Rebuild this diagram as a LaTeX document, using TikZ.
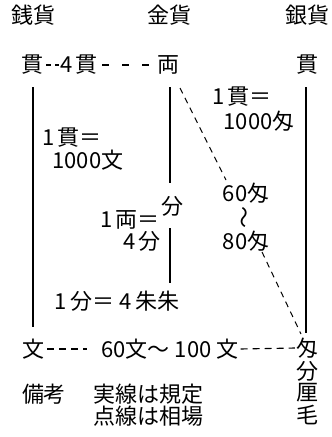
\documentclass[tikz,border=0pt]{standalone}
\usepackage{fontspec}
\setmainfont{Noto Sans CJK JP}
\begin{document}
\begin{tikzpicture}[x=1pt,y=-1pt,
  lbl/.style={inner sep=0pt, font=\fontsize{22}{26}\selectfont},
  solidline/.style={line width=1.1pt},
  dashline/.style={line width=1.1pt, dash pattern=on 7pt off 5pt},
  shortdash/.style={line width=1.1pt, dash pattern=on 5pt off 4pt},
  sparsedash/.style={line width=1.1pt, dash pattern=on 7pt off 13pt},
  diagline/.style={line width=1pt, dash pattern=on 6pt off 5pt}]
\useasboundingbox (0,0) rectangle (332,437);
% headers
\node[lbl] (h1) at (34,15) {銭貨};
\node[lbl] (h2) at (169,15) {金貨};
\node[lbl] (h3) at (307,15) {銀貨};
% top row
\node[lbl] (zq) at (32,65) {貫};
\node[lbl] (z4) at (79,65) {4\,貫};
\node[lbl] (gr) at (168,65) {両};
\node[lbl] (sq) at (307,65) {貫};
% bottom row
\node[lbl] (zw) at (34,349) {文};
\node[lbl] (zr) at (170,349) {60文〜 100 文};
\node[lbl] (sm) at (307,348) {匁};
\node[lbl] (sf) at (307,371) {分};
\node[lbl] (sr) at (307,393) {厘};
\node[lbl] (smo) at (307,415) {毛};
% labels
\node[lbl] (l1) at (72,138) {1\,貫＝};
\node[lbl] (l2) at (88,160) {1000文};
\node[lbl] (l3) at (242,97) {1\,貫＝};
\node[lbl] (l4) at (259,121) {1000匁};
\node[lbl] (l5) at (130,220) {1\,両＝};
\node[lbl] (gf) at (172,206) {分};
\node[lbl] (l6) at (142,241) {4\,分};
\node[lbl] (l7) at (117,301) {1\,分＝ 4\,朱朱};
\node[lbl] (r1) at (246,193) {60匁};
\node[lbl, rotate=90] (r2) at (247,217) {〜};
\node[lbl] (r3) at (246,241) {80匁};
\node[lbl] (n1) at (44,394) {備考};
\node[lbl] (n2) at (148,394) {実線は規定};
\node[lbl] (n3) at (148,416) {点線は相場};
% solid lines
\draw[solidline] (33,87) coordinate (a1) -- (33,327) coordinate (a2);
\draw[solidline] (170,87) coordinate (b1) -- (170,183) coordinate (b2);
\draw[solidline] (170,228) coordinate (b3) -- (170,283) coordinate (b4);
\draw[solidline] (306,87) coordinate (c1) -- (306,333) coordinate (c2);
% dashed lines between rows
\draw[shortdash] ([xshift=3pt]zq.east) -- ([xshift=-1pt]z4.west);
\draw[sparsedash] ([xshift=4pt]z4.east) -- ([xshift=-1pt]gr.west);
\draw[dashline] ([xshift=2pt]zw.east) -- ([xshift=-14pt]zr.west);
\draw[dashline] ([xshift=2pt]zr.east) -- ([xshift=-1pt]sm.west);
% diagonal
\draw[diagline] (180,88) -- (226,180);
\draw[diagline] (262,252) -- (301,334);
\end{tikzpicture}
\end{document}
